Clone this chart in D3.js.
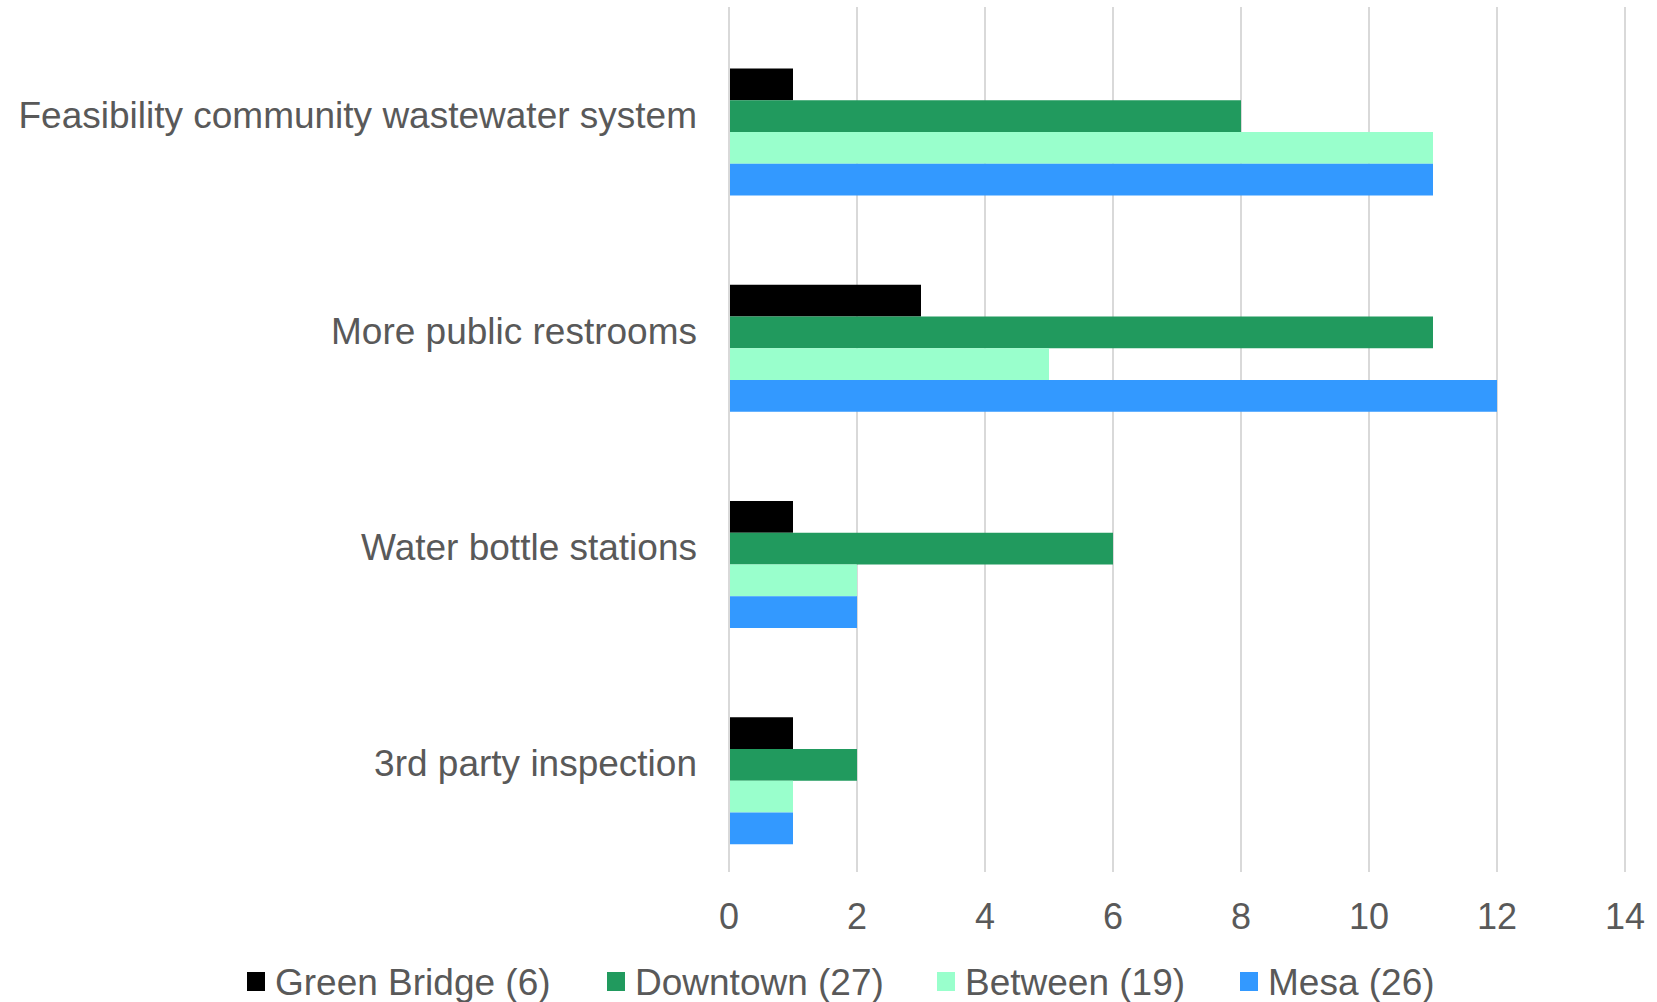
<!DOCTYPE html>
<html><head><meta charset="utf-8">
<script src="https://cdn.jsdelivr.net/npm/d3@7"></script>
<style>body{margin:0;background:#fff}svg{display:block}text{font-family:"Liberation Sans",Arial,sans-serif;fill:#595959}</style>
</head><body><svg id="c" width="1657" height="1002"></svg>
<script>
const categories = ["Feasibility community wastewater system","More public restrooms","Water bottle stations","3rd party inspection"];
const seriesNames = ["Green Bridge (6)","Downtown (27)","Between (19)","Mesa (26)"];
const greenBridge = [1,3,1,1];
const downtown = [8,11,6,2];
const between = [11,5,2,1];
const mesa = [11,12,2,1];
const xTicks = [0,2,4,6,8,10,12,14];
const colors = ["#000000","#219A5E","#99FFCC","#3399FF"];
const seriesValues = [greenBridge, downtown, between, mesa];

const svg = d3.select("#c");
const x = d3.scaleLinear().domain([0,14]).range([729,1625]);
const y = d3.scaleBand().domain(categories).range([7,872]);
const inner = d3.scaleBand().domain(seriesNames).range([61.5,188.5]);

// gridlines
svg.append("g").selectAll("line").data(xTicks).join("line")
  .attr("x1",d=>x(d)).attr("x2",d=>x(d)).attr("y1",7).attr("y2",872)
  .attr("stroke","#D9D9D9").attr("stroke-width",2);

// bars
categories.forEach((c,i)=>{
  seriesNames.forEach((s,j)=>{
    svg.append("rect")
      .attr("x",x(0)+1).attr("y",y(c)+inner(s))
      .attr("width",x(seriesValues[j][i])-x(0)-1).attr("height",inner.bandwidth())
      .attr("fill",colors[j]);
  });
});

// category labels
svg.append("g").selectAll("text").data(categories).join("text")
  .attr("x",697).attr("y",d=>y(d)+y.bandwidth()/2)
  .attr("text-anchor","end").attr("dominant-baseline","central")
  .style("font-size","37px").text(d=>d);

// x tick labels
svg.append("g").selectAll("text").data(xTicks).join("text")
  .attr("x",d=>x(d)).attr("y",916)
  .attr("text-anchor","middle").attr("dominant-baseline","central")
  .style("font-size","36px").text(d=>d);

// legend
const legX = [247,607,937,1240];
const lg = svg.append("g");
seriesNames.forEach((s,j)=>{
  lg.append("rect").attr("x",legX[j]).attr("y",972).attr("width",18).attr("height",19).attr("fill",colors[j]);
  lg.append("text").attr("x",legX[j]+28).attr("y",982).attr("dominant-baseline","central")
    .style("font-size","37px").text(s);
});
</script></body></html>
